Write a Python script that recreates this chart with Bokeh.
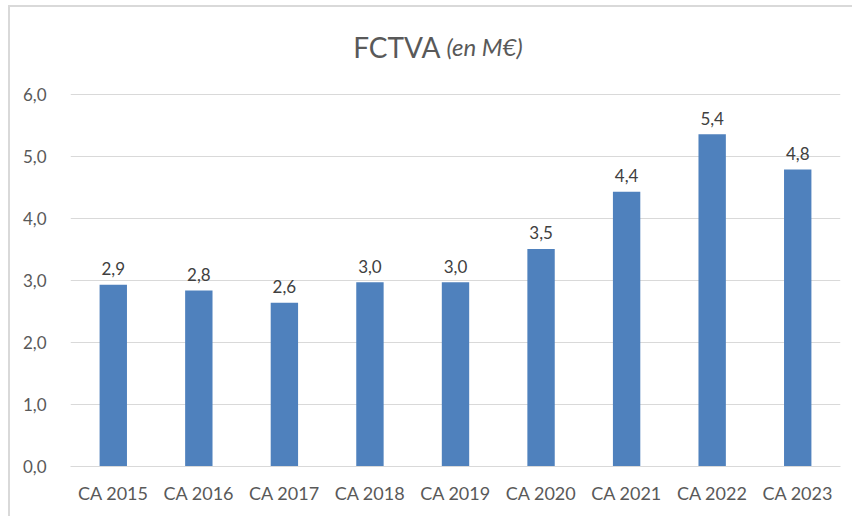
from bokeh.plotting import figure
from bokeh.models import Range1d, FactorRange, Label, ColumnDataSource, FixedTicker
from bokeh.core.properties import value
from bokeh.embed import file_html
from bokeh.resources import INLINE

categories = ["CA 2015", "CA 2016", "CA 2017", "CA 2018", "CA 2019",
              "CA 2020", "CA 2021", "CA 2022", "CA 2023"]
values = [2.93, 2.84, 2.64, 2.97, 2.97, 3.51, 4.43, 5.36, 4.79]
y_ticks = [0, 1, 2, 3, 4, 5, 6]

FONT = "Lato"
TXT = "#595959"

labels = [f"{v:.1f}".replace(".", ",") for v in values]
src = ColumnDataSource(dict(cat=categories, val=values, lab=labels))

# frame extends above the 6,0 gridline so the title (a Label) is not clipped
p = figure(width=844, height=511, output_backend="svg", toolbar_location=None,
           x_range=FactorRange(*categories), y_range=Range1d(0, 6 + 84 / 62),
           min_border_left=60, min_border_right=14, min_border_top=3,
           min_border_bottom=52)
p.styles = {"border-left": "2px solid #d9d9d9", "border-top": "2px solid #d9d9d9",
            "margin-left": "8px", "margin-top": "5px"}
p.outline_line_color = None
p.background_fill_color = "white"
p.border_fill_color = "white"

p.vbar(x="cat", top="val", width=0.32, bottom=0, source=src,
       fill_color="#4F81BD", line_color=None)
p.text(x="cat", y="val", text="lab", source=src, text_align="center",
       text_baseline="alphabetic", y_offset=-16, text_font=value(FONT),
       text_font_size="17px", text_color="#404040")

p.xgrid.grid_line_color = None
p.ygrid.grid_line_color = "#d9d9d9"
p.ygrid.grid_line_width = 1
p.yaxis.ticker = FixedTicker(ticks=y_ticks)
p.yaxis.major_label_overrides = {t: f"{t:.1f}".replace(".", ",") for t in y_ticks}
p.yaxis.axis_line_color = None
p.yaxis.major_tick_line_color = None
p.yaxis.minor_tick_line_color = None
p.yaxis.major_label_standoff = 18
p.yaxis.major_label_text_font = FONT
p.yaxis.major_label_text_font_size = "17px"
p.yaxis.major_label_text_color = TXT

p.xaxis.axis_line_color = "#d9d9d9"
p.xaxis.major_tick_line_color = None
p.xaxis.minor_tick_line_color = None
p.xaxis.major_label_standoff = 9
p.xaxis.major_label_text_font = FONT
p.xaxis.major_label_text_font_size = "18px"
p.xaxis.major_label_text_color = TXT

p.add_layout(Label(x=428, y=37, x_units="canvas", y_units="canvas", text="FCTVA",
                   text_align="right", text_baseline="alphabetic",
                   text_font=FONT, text_font_size="28px", text_color=TXT))
p.add_layout(Label(x=434, y=37, x_units="canvas", y_units="canvas", text="(en M€)",
                   text_align="left", text_baseline="alphabetic", text_font_style="italic",
                   text_font=FONT, text_font_size="24px", text_color=TXT))

open("out.html", "w").write(file_html(p, INLINE))
